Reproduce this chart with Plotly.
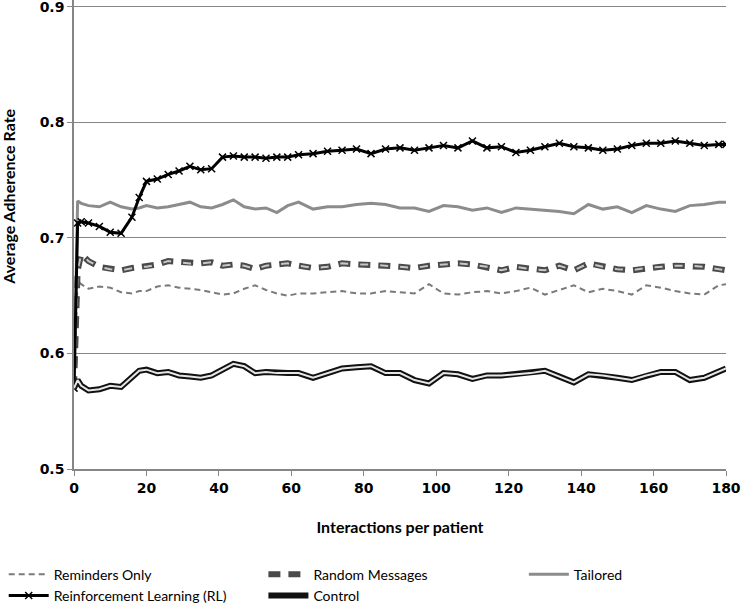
import plotly.graph_objects as go

interactions = [0, 1, 2, 4, 7, 10, 13, 16, 18, 20, 23, 26, 29, 32, 35, 38, 41, 44, 47, 50,
                53, 56, 59, 62, 66, 70, 74, 78, 82, 86, 90, 94, 98, 102, 106, 110, 114, 118,
                122, 126, 130, 134, 138, 142, 146, 150, 154, 158, 162, 166, 170, 174, 178, 180]

reminders_only = [0.570, 0.663, 0.660, 0.656, 0.658, 0.657, 0.653, 0.652, 0.654, 0.654, 0.658,
                  0.659, 0.657, 0.656, 0.655, 0.653, 0.651, 0.652, 0.656, 0.659, 0.655, 0.652,
                  0.650, 0.652, 0.652, 0.653, 0.654, 0.652, 0.652, 0.654, 0.653, 0.652, 0.660,
                  0.652, 0.651, 0.653, 0.654, 0.652, 0.654, 0.657, 0.651, 0.655, 0.659, 0.653,
                  0.656, 0.654, 0.651, 0.659, 0.657, 0.654, 0.652, 0.651, 0.659, 0.660]

random_messages = [0.570, 0.672, 0.686, 0.680, 0.675, 0.673, 0.672, 0.674, 0.675, 0.675, 0.677,
                   0.680, 0.679, 0.678, 0.678, 0.679, 0.676, 0.677, 0.676, 0.673, 0.676, 0.677,
                   0.678, 0.676, 0.674, 0.675, 0.678, 0.677, 0.677, 0.676, 0.675, 0.674, 0.676,
                   0.677, 0.678, 0.677, 0.675, 0.672, 0.675, 0.673, 0.672, 0.676, 0.672, 0.678,
                   0.675, 0.673, 0.672, 0.674, 0.675, 0.676, 0.676, 0.675, 0.673, 0.672]

tailored = [0.570, 0.732, 0.730, 0.728, 0.727, 0.731, 0.727, 0.725, 0.726, 0.728, 0.726, 0.727,
            0.729, 0.731, 0.727, 0.726, 0.729, 0.733, 0.727, 0.725, 0.726, 0.722, 0.728, 0.731,
            0.725, 0.727, 0.727, 0.729, 0.730, 0.729, 0.726, 0.726, 0.723, 0.728, 0.727, 0.724,
            0.726, 0.722, 0.726, 0.725, 0.724, 0.723, 0.721, 0.729, 0.725, 0.727, 0.722, 0.728,
            0.725, 0.723, 0.728, 0.729, 0.731, 0.731]

reinforcement_learning = [0.570, 0.713, 0.714, 0.713, 0.710, 0.705, 0.704, 0.718, 0.735, 0.749,
                          0.751, 0.755, 0.758, 0.762, 0.759, 0.760, 0.770, 0.771, 0.770, 0.770,
                          0.769, 0.770, 0.770, 0.772, 0.773, 0.775, 0.776, 0.777, 0.773, 0.777,
                          0.778, 0.776, 0.778, 0.780, 0.778, 0.784, 0.778, 0.779, 0.774, 0.776,
                          0.779, 0.782, 0.779, 0.778, 0.776, 0.777, 0.780, 0.782, 0.782, 0.784,
                          0.782, 0.780, 0.781, 0.781]

control = [0.570, 0.577, 0.572, 0.568, 0.569, 0.572, 0.571, 0.579, 0.585, 0.586, 0.583, 0.584,
           0.581, 0.580, 0.579, 0.581, 0.586, 0.591, 0.589, 0.583, 0.584, 0.583, 0.583, 0.583,
           0.579, 0.583, 0.587, 0.588, 0.589, 0.583, 0.583, 0.577, 0.574, 0.583, 0.582, 0.578,
           0.581, 0.581, 0.582, 0.583, 0.585, 0.580, 0.575, 0.582, 0.581, 0.579, 0.577, 0.581,
           0.584, 0.584, 0.577, 0.579, 0.584, 0.587]

x_ticks = [0, 20, 40, 60, 80, 100, 120, 140, 160, 180]
y_ticks = [0.5, 0.6, 0.7, 0.8, 0.9]

fig = go.Figure()

fig.add_trace(go.Scatter(x=interactions, y=reminders_only, name="Reminders Only", mode="lines",
                         legend="legend",
                         line=dict(color="#7a7a7a", width=2, dash="6px,4px")))
fig.add_trace(go.Scatter(x=interactions, y=random_messages, name="Random Messages", mode="lines",
                         legend="legend2",
                         line=dict(color="#4a4a4a", width=6, dash="12px,8px")))
fig.add_trace(go.Scatter(x=interactions, y=random_messages, name="Random Messages", mode="lines",
                         showlegend=False, hoverinfo="skip", legend="legend2",
                         line=dict(color="#c8c8c8", width=2, dash="0px,2px,8px,10px")))
fig.add_trace(go.Scatter(x=interactions, y=tailored, name="Tailored", mode="lines",
                         legend="legend3",
                         line=dict(color="#8c8c8c", width=3)))
fig.add_trace(go.Scatter(x=interactions, y=reinforcement_learning, name="Reinforcement Learning (RL)",
                         mode="lines+markers", legend="legend",
                         line=dict(color="#000000", width=3),
                         marker=dict(symbol="x-thin", size=7, color="#000000",
                                     line=dict(color="#000000", width=1.5))))
fig.add_trace(go.Scatter(x=interactions, y=control, name="Control", mode="lines",
                         legend="legend2",
                         line=dict(color="#111111", width=6)))
fig.add_trace(go.Scatter(x=interactions, y=control, name="Control", mode="lines",
                         showlegend=False, hoverinfo="skip", legend="legend2",
                         line=dict(color="#e6e6e6", width=2)))

axis_color = "#868686"
legend_font = dict(family="Lato", size=14, color="#000000")


def make_legend(xpos, entry_w):
    return dict(orientation="h", xref="container", yref="container",
                x=xpos, y=0.078, xanchor="left", yanchor="top",
                entrywidth=entry_w, entrywidthmode="pixels",
                font=legend_font, itemwidth=40, tracegroupgap=0,
                bgcolor="rgba(0,0,0,0)")


fig.update_layout(
    width=742, height=606,
    margin=dict(l=74, r=16, t=0, b=137, autoexpand=False),
    paper_bgcolor="white", plot_bgcolor="white",
    showlegend=True,
    legend=make_legend(0.005, 420),
    legend2=make_legend(0.355, 300),
    legend3=make_legend(0.706, 120),
    xaxis=dict(range=[0, 180], tickvals=x_ticks, showgrid=False, zeroline=False,
               showline=True, linecolor=axis_color, linewidth=1.5,
               ticks="outside", ticklen=5, tickcolor=axis_color,
               tickfont=dict(family="DejaVu Sans", size=14, color="#000000", weight="bold"),
               title=dict(text="Interactions per patient", standoff=27,
                          font=dict(family="Lato", size=16, color="#000000", weight="bold"))),
    yaxis=dict(range=[0.5, 0.906], tickvals=y_ticks, tickformat=".1f",
               ticklabeloverflow="allow",
               showgrid=True, gridcolor=axis_color, gridwidth=1.2, zeroline=False,
               showline=True, linecolor=axis_color, linewidth=1.5,
               ticks="outside", ticklen=5, tickcolor=axis_color,
               tickfont=dict(family="DejaVu Sans", size=14, color="#000000", weight="bold")),
    annotations=[dict(text="Average Adherence Rate", xref="paper", yref="paper",
                      x=-0.1, y=0.58, textangle=-90, showarrow=False,
                      xanchor="center", yanchor="middle",
                      font=dict(family="Lato", size=16, color="#000000", weight="bold"))],
)

fig.write_html("out.html", config={"displayModeBar": False},
               post_script="document.body.style.margin='0';document.body.style.overflow='hidden';")
